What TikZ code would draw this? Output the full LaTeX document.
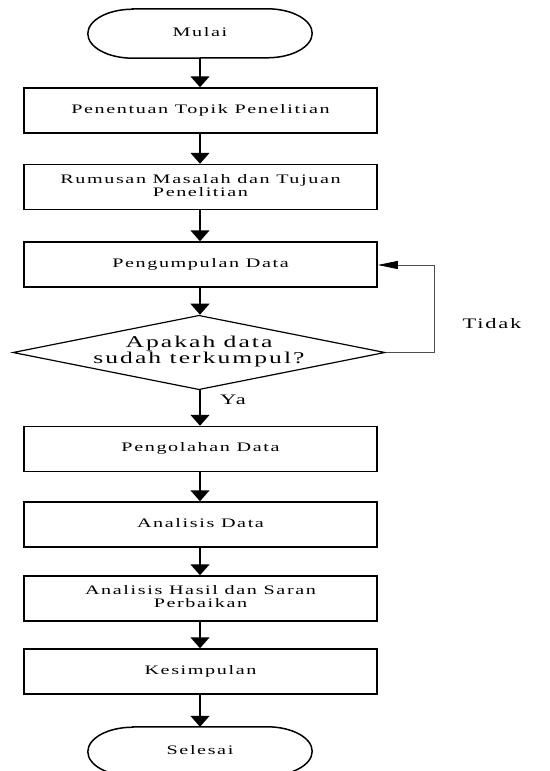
\documentclass[tikz,border=0pt]{standalone}
\usepackage{fontspec}
\usepackage{graphicx}
\setmainfont{Liberation Serif}[LetterSpace=8]
\usetikzlibrary{shapes.geometric,arrows.meta}
\newcommand\wtext[1]{\scalebox{1.55}[1]{\begin{tabular}{@{}c@{}}#1\end{tabular}}}
\begin{document}
\begin{tikzpicture}[x=1pt,y=1pt,
  boxst/.style={draw,line width=1.5pt,minimum width=353pt,minimum height=45pt,inner sep=0pt,font=\fontsize{13}{13}\selectfont},
  termst/.style={minimum width=224pt,minimum height=49pt,inner sep=0pt,font=\fontsize{13}{13}\selectfont},
  decst/.style={draw,line width=1.2pt,diamond,aspect=5,minimum width=368pt,minimum height=73pt,inner sep=0pt,font=\fontsize{16.5}{15.5}\selectfont},
  flow/.style={line width=1.6pt,-{Triangle[length=11pt,width=19pt]}},
  loopst/.style={line width=0.9pt,draw=black!70,-{Triangle[length=20pt,width=8pt,fill=black,color=black]}},
  lbl/.style={font=\fontsize{14.5}{14.5}\selectfont,inner sep=0pt}]
\useasboundingbox (0,0) rectangle (549,-771);
\newcommand\termoutline[1]{%
  \draw[line width=1.5pt] ([xshift=45pt]#1.north west) -- ([xshift=-45pt]#1.north east)
    arc[start angle=90,end angle=-90,x radius=45pt,y radius=24.5pt]
    -- ([xshift=45pt]#1.south west)
    arc[start angle=270,end angle=90,x radius=45pt,y radius=24.5pt] -- cycle;}
\node[termst] (mulai) at (200,-33.5) {\wtext{Mulai}};
\termoutline{mulai}
\node[boxst] (b1) at (200.5,-110.5) {\wtext{Penentuan Topik Penelitian}};
\node[boxst] (b2) at (200.5,-187) {\wtext{Rumusan Masalah dan Tujuan\\Penelitian}};
\node[boxst] (b3) at (200.5,-264.5) {\wtext{Pengumpulan Data}};
\node[decst] (d) at (199,-352.5) {\wtext{Apakah data\\sudah terkumpul?}};
\node[boxst] (b4) at (200.5,-449) {\wtext{Pengolahan Data}};
\node[boxst] (b5) at (200.5,-524.5) {\wtext{Analisis Data}};
\node[boxst] (b6) at (200.5,-598.5) {\wtext{Analisis Hasil dan Saran\\Perbaikan}};
\node[boxst] (b7) at (200.5,-671.5) {\wtext{Kesimpulan}};
\node[termst] (sel) at (200,-751.5) {\wtext{Selesai}};
\termoutline{sel}
\coordinate (lp) at (434,-352.5);
\draw[flow] (mulai.south -| 200,0) -- (b1.north -| 200,0);
\draw[flow] (b1.south -| 200,0) -- (b2.north -| 200,0);
\draw[flow] (b2.south -| 200,0) -- (b3.north -| 200,0);
\draw[flow] (b3.south -| 200,0) -- (d.north -| 200,0);
\draw[flow] (d.south -| 200,0) -- (b4.north -| 200,0);
\draw[flow] (b4.south -| 200,0) -- (b5.north -| 200,0);
\draw[flow] (b5.south -| 200,0) -- (b6.north -| 200,0);
\draw[flow] (b6.south -| 200,0) -- (b7.north -| 200,0);
\draw[flow] (b7.south -| 200,0) -- (sel.north -| 200,0);
\draw[loopst] (d.east) -- (lp) |- (b3.east |- 0,-265);
\node[lbl] (ya) at (233,-402) {\wtext{Ya}};
\node[lbl] (tidak) at (492,-326) {\wtext{Tidak}};
\end{tikzpicture}
\end{document}
